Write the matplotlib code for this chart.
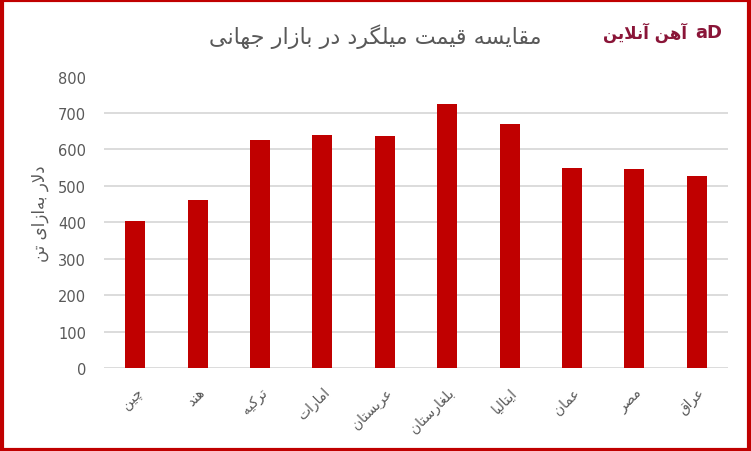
import matplotlib
matplotlib.use("Agg")
import matplotlib.pyplot as plt
from matplotlib.patches import Rectangle

# ---------------- data ----------------
categories = ["چین", "هند", "ترکیه", "امارات", "عربستان", "بلغارستان", "ایتالیا", "عمان", "مصر", "عراق"]
values = [404, 460, 625, 641, 638, 725, 670, 549, 546, 527]
yticks = [0, 100, 200, 300, 400, 500, 600, 700, 800]
title_text = "مقایسه قیمت میلگرد در بازار جهانی"
ylabel_text = "دلار به\u200cازای تن"
logo_text = "آهن آنلاین"

# ---------------- minimal Persian shaping ----------------
FORMS = {  # isolated, final, initial, medial
    "ا": ("\uFE8D", "\uFE8E", None, None),
    "آ": ("\uFE81", "\uFE82", None, None),
    "د": ("\uFEA9", "\uFEAA", None, None),
    "ر": ("\uFEAD", "\uFEAE", None, None),
    "ز": ("\uFEAF", "\uFEB0", None, None),
    "ب": ("\uFE8F", "\uFE90", "\uFE91", "\uFE92"),
    "ت": ("\uFE95", "\uFE96", "\uFE97", "\uFE98"),
    "ج": ("\uFE9D", "\uFE9E", "\uFE9F", "\uFEA0"),
    "س": ("\uFEB1", "\uFEB2", "\uFEB3", "\uFEB4"),
    "ص": ("\uFEB9", "\uFEBA", "\uFEBB", "\uFEBC"),
    "ع": ("\uFEC9", "\uFECA", "\uFECB", "\uFECC"),
    "غ": ("\uFECD", "\uFECE", "\uFECF", "\uFED0"),
    "ق": ("\uFED5", "\uFED6", "\uFED7", "\uFED8"),
    "ل": ("\uFEDD", "\uFEDE", "\uFEDF", "\uFEE0"),
    "م": ("\uFEE1", "\uFEE2", "\uFEE3", "\uFEE4"),
    "ن": ("\uFEE5", "\uFEE6", "\uFEE7", "\uFEE8"),
    "ه": ("\uFEE9", "\uFEEA", "\uFEEB", "\uFEEC"),
    "ی": ("\uFBFC", "\uFBFD", "\uFBFE", "\uFBFF"),
    "ک": ("\uFB8E", "\uFB8F", "\uFB90", "\uFB91"),
    "گ": ("\uFB92", "\uFB93", "\uFB94", "\uFB95"),
    "چ": ("\uFB7A", "\uFB7B", "\uFB7C", "\uFB7D"),
}


def dual(c):
    return c in FORMS and FORMS[c][2] is not None


def joins(c):
    return c in FORMS


def shape(text):
    chars = list(text)
    out = []
    i = 0
    n = len(chars)
    while i < n:
        c = chars[i]
        if c not in FORMS:
            if c != "\u200c":
                out.append(c)
            i += 1
            continue
        prev = chars[i - 1] if i > 0 else ""
        join_prev = dual(prev)
        # lam-alef ligature
        if c == "ل" and i + 1 < n and chars[i + 1] in ("ا", "آ"):
            nxt = chars[i + 1]
            if nxt == "ا":
                out.append("\uFEFC" if join_prev else "\uFEFB")
            else:
                out.append("\uFEF6" if join_prev else "\uFEF5")
            i += 2
            continue
        nxt = chars[i + 1] if i + 1 < n else ""
        join_next = dual(c) and joins(nxt)
        iso, fin, ini, med = FORMS[c]
        if join_prev and join_next:
            out.append(med)
        elif join_prev:
            out.append(fin)
        elif join_next:
            out.append(ini)
        else:
            out.append(iso)
        i += 1
    return "".join(out)[::-1]


plt.rcParams["font.family"] = ["DejaVu Sans"]

fig = plt.figure(figsize=(7.51, 4.52), dpi=100)
ax = fig.add_axes([104 / 751, 1 - 369 / 452, (728 - 104) / 751, (369 - 77.6) / 452])

x = list(range(len(categories)))
ax.bar(x, values, width=0.32, color="#C00000", zorder=3)
ax.set_xlim(-0.5, len(categories) - 0.5)
ax.set_ylim(0, 800)
ax.set_yticks(yticks)
ax.set_yticklabels([str(t) for t in yticks])
for t in yticks[:-1]:
    ax.axhline(t, color="#D9D9D9", lw=1.3, zorder=1)

for s in ax.spines.values():
    s.set_visible(False)
ax.tick_params(axis="y", length=0, pad=13, labelsize=10.5, labelcolor="#595959")
ax.tick_params(axis="x", length=0, pad=12, labelsize=10, labelcolor="#595959")
ax.set_xticks(x)
ax.set_xticklabels([shape(c) for c in categories], rotation=45, ha="right",
                   va="top", rotation_mode="anchor")

fig.text(40 / 751, 1 - 214 / 452, shape(ylabel_text), rotation=90, ha="center",
         va="center", fontsize=12, color="#595959")
fig.text(375 / 751, 1 - 37 / 452, shape(title_text), ha="center", va="center",
         fontsize=16, color="#595959")
fig.text(645 / 751, 1 - 33 / 452, shape(logo_text), ha="center", va="center",
         fontsize=12, color="#8A1538", fontweight="bold")
fig.text(709 / 751, 1 - 33 / 452, "aD", ha="center", va="center",
         fontsize=13, color="#8A1538", fontweight="bold")

fig.patches.append(Rectangle((0.002, 0.003), 0.996, 0.994, transform=fig.transFigure,
                             fill=False, edgecolor="#C00000", lw=3))

fig.savefig("out.png", dpi=100)
